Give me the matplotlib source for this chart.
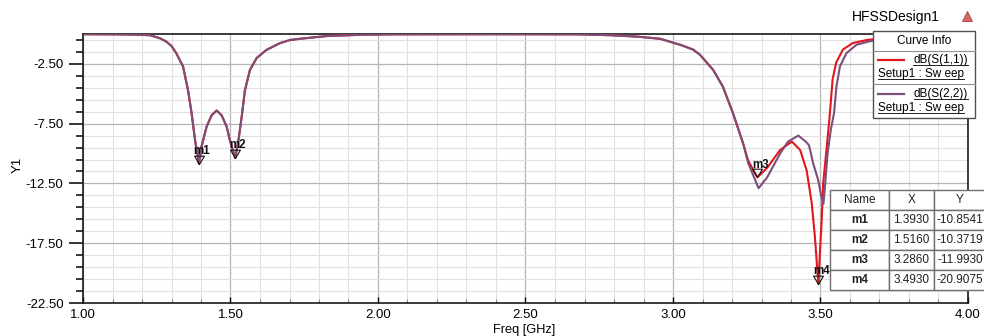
#%% Librerias
import numpy as np
import matplotlib
matplotlib.use('Agg')
import matplotlib.pyplot as plt
from matplotlib.path import Path
from matplotlib.lines import Line2D
from matplotlib.patches import Rectangle

plt.rcParams['font.family'] = ['Liberation Sans', 'DejaVu Sans']

#%% Datos leidos del grafico
# tramo comun (S11 y S22 se superponen)
freq_comun = [1.000, 1.100, 1.169, 1.227, 1.260, 1.282, 1.300, 1.316, 1.339, 1.356,
              1.368, 1.380, 1.393, 1.402, 1.419, 1.436, 1.453, 1.470, 1.487, 1.498,
              1.516, 1.527, 1.538, 1.549, 1.566, 1.589, 1.622, 1.667, 1.702, 1.736,
              1.827, 1.950, 2.050, 2.400, 2.680, 2.786, 2.880, 2.956, 3.024, 3.068,
              3.092, 3.136, 3.169, 3.203, 3.237]
dB_comun = [-0.02, -0.03, -0.05, -0.10, -0.35, -0.63, -1.00, -1.60, -2.70, -4.70,
            -6.60, -8.90, -10.854, -9.40, -7.75, -6.80, -6.40, -6.80, -7.75, -8.90,
            -10.372, -8.90, -6.90, -4.70, -3.00, -2.00, -1.33, -0.77, -0.50, -0.40,
            -0.17, -0.06, -0.03, -0.02, -0.03, -0.10, -0.22, -0.40, -0.90, -1.30,
            -1.75, -3.00, -4.40, -6.60, -9.10]

freq_S11_der = [3.255, 3.286, 3.319, 3.363, 3.403, 3.431, 3.453, 3.470, 3.481, 3.489,
                3.493, 3.498, 3.504, 3.509, 3.521, 3.532, 3.541, 3.553, 3.576, 3.610,
                3.658, 3.692, 3.800, 3.900, 4.000]
dB_S11_der = [-10.60, -11.993, -11.20, -9.70, -9.00, -9.70, -11.40, -14.10, -16.95, -19.70,
              -20.9075, -18.30, -15.60, -12.50, -9.50, -6.60, -3.80, -2.40, -1.30, -0.75,
              -0.50, -0.40, -0.30, -0.25, -0.22]

freq_S22_der = [3.255, 3.290, 3.319, 3.363, 3.390, 3.425, 3.450, 3.461, 3.475, 3.492,
                3.503, 3.510, 3.516, 3.524, 3.535, 3.546, 3.554, 3.566, 3.588, 3.622,
                3.668, 3.720, 3.850, 4.000]
dB_S22_der = [-10.80, -12.90, -12.00, -10.00, -9.00, -8.50, -9.00, -9.30, -10.80, -12.20,
              -13.60, -14.20, -12.50, -10.00, -8.00, -6.60, -4.40, -2.70, -1.60, -0.90,
              -0.60, -0.45, -0.30, -0.25]

marcadores = ['m1', 'm2', 'm3', 'm4']
marc_X = [1.3930, 1.5160, 3.2860, 3.4930]
marc_Y = [-10.8541, -10.3719, -11.9930, -20.9075]

f_S11 = np.array(freq_comun + freq_S11_der)
S11 = np.array(dB_comun + dB_S11_der)
f_S22 = np.array(freq_comun + freq_S22_der)
S22 = np.array(dB_comun + dB_S22_der)

#%% Figura
W, H = 984, 336
def fpx(x, y):
    # pixel de la figura -> fraccion de figura
    return x / W, 1 - y / H

fig = plt.figure(figsize=(9.84, 3.36), dpi=100)
ax = fig.add_axes([83/W, 1 - 303/H, (968-83)/W, (303-34)/H])

c_rojo = '#e3161e'
c_violeta = '#7d4e78'
ax.plot(f_S11, S11, '-', color=c_rojo, lw=1.5, zorder=3)
ax.plot(f_S22, S22, '-', color=c_violeta, lw=1.5, zorder=4)

ax.set_xlim(1.0, 4.0)
ax.set_ylim(-22.5, 0.0)
ax.set_xticks(np.arange(1.0, 4.01, 0.5))
ax.set_xticks(np.arange(1.0, 4.01, 0.1), minor=True)
ax.set_yticks(np.arange(-22.5, 0, 5.0))
ax.set_yticks(np.arange(-22.5, 0.01, 1.0), minor=True)
ax.set_xticklabels([f'{t:.2f}' for t in np.arange(1.0, 4.01, 0.5)])
ax.set_yticklabels([f'{t:.2f}' for t in np.arange(-22.5, 0, 5.0)])
ax.tick_params(axis='y', which='major', direction='out', length=10, width=1.1, pad=4, labelsize=9.5)
ax.tick_params(axis='y', which='minor', direction='out', length=5, width=1.1)
ax.tick_params(axis='x', which='major', direction='in', length=4, width=1, pad=4, labelsize=9.5)
ax.tick_params(axis='x', which='minor', direction='in', length=3, width=0.8, color='#888888')
ax.grid(which='major', color='#b4b4b4', lw=0.9)
ax.grid(which='minor', color='#e0e0e0', lw=0.8)
ax.set_axisbelow(True)
for s in ax.spines.values():
    s.set_color('#1a1a1a')
    s.set_linewidth(1.2)

# marcadores
tri = Path([(-0.5, 0.85), (0.5, 0.85), (0.0, 0.0), (-0.5, 0.85)],
           [Path.MOVETO, Path.LINETO, Path.LINETO, Path.CLOSEPOLY])
for n, x, y in zip(marcadores, marc_X, marc_Y):
    ax.plot([x], [y], marker=tri, ms=12, mfc='none', mec='#111111', mew=0.8, zorder=6)
    ax.annotate(n, (x, y), xytext=(-4, 7), textcoords='offset points',
                fontsize=8.3, fontweight='bold', color='#111111', zorder=6)

# tabla de marcadores
celdas = [[n, f'{x:.4f}', f'{y:.4f}'] for n, x, y in zip(marcadores, marc_X, marc_Y)]
tabla = ax.table(cellText=celdas, colLabels=['Name', 'X', 'Y'],
                 colWidths=[59, 45, 52], cellLoc='center',
                 bbox=[(830-83)/885, (303-290)/269, (986-830)/885, (290-190)/269])
tabla.auto_set_font_size(False)
tabla.set_fontsize(8.5)
tabla.set_zorder(10)
for (r, c), cell in tabla.get_celld().items():
    cell.set_edgecolor('#707070')
    cell.set_linewidth(1.0)
    cell.set_facecolor('white')
    if r > 0 and c == 0:
        cell.get_text().set_fontweight('bold')
    cell.get_text().set_color('#222222')

# ejes
fig.text(*fpx(18, 165), 'Y1', rotation=90, ha='center', va='center', fontsize=9.5)
fig.text(*fpx(524, 330), 'Freq [GHz]', ha='center', va='center', fontsize=9.2)
fig.text(*fpx(852, 17), 'HFSSDesign1', ha='left', va='center', fontsize=10)
fig.add_artist(Line2D([967/W], [1 - 16/H], marker='^', ms=7, color='#d46a6a',
                      mec='#a83c3c', mew=0.6, transform=fig.transFigure))

# caja Curve Info
caja = Rectangle(fpx(873, 118), (975-873)/W, (118-31)/H, transform=fig.transFigure,
                 facecolor='white', edgecolor='#505050', lw=1.0, zorder=20)
fig.add_artist(caja)
for ys in (51, 84):
    fig.add_artist(Line2D([873/W, 975/W], [1 - ys/H]*2, color='#909090', lw=0.8,
                          transform=fig.transFigure, zorder=21))
fig.text(*fpx(924, 41), 'Curve Info', ha='center', va='center', fontsize=8.5, zorder=22)
textos = []
for y0, lab, col in ((60, 'dB(S(1,1))', c_rojo), (94, 'dB(S(2,2))', c_violeta)):
    fig.add_artist(Line2D([878/W, 904/W], [1 - y0/H]*2, color=col, lw=1.6,
                          transform=fig.transFigure, zorder=22))
    textos.append(fig.text(*fpx(968, y0), lab, ha='right', va='center', fontsize=8.5, zorder=22))
    textos.append(fig.text(*fpx(878, y0 + 14), 'Setup1 : Sw eep', ha='left', va='center',
                           fontsize=8.5, zorder=22))

# subrayado de los textos de la leyenda
fig.canvas.draw()
rend = fig.canvas.get_renderer()
for t in textos:
    bb = t.get_window_extent(rend)
    yl = (bb.y0 + 1) / (H)
    fig.add_artist(Line2D([bb.x0 / W, bb.x1 / W], [yl, yl], color='#222222', lw=0.7,
                          transform=fig.transFigure, zorder=22))

plt.savefig('out.png', dpi=100)
